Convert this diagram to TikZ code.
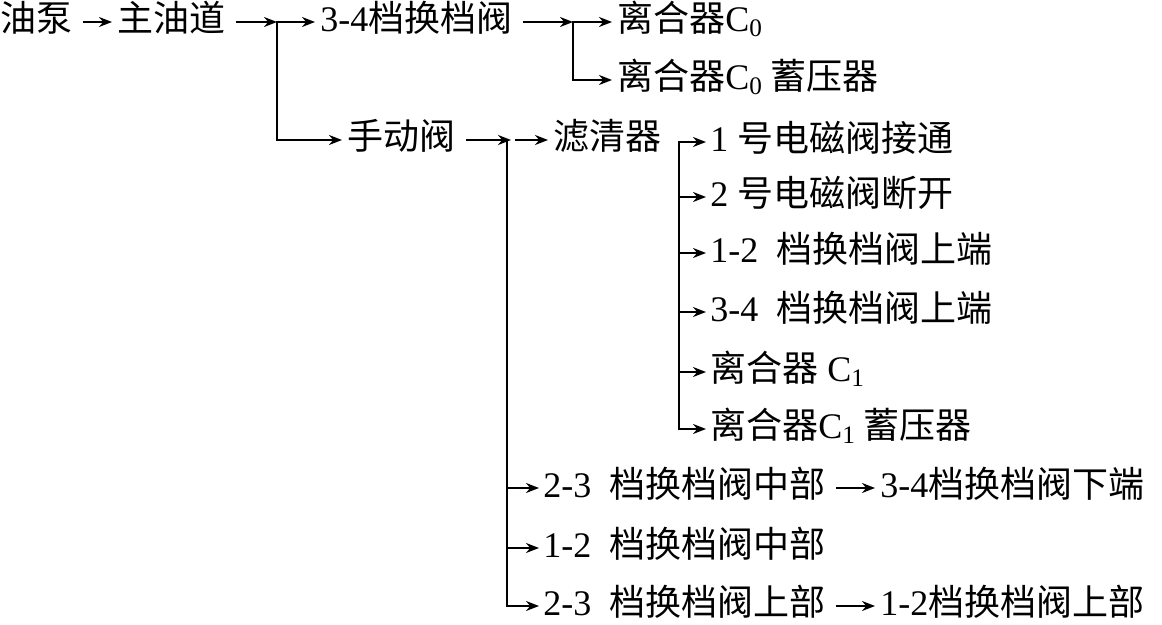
\documentclass[tikz,border=0pt]{standalone}
\usepackage{fontspec}
\setmainfont{Liberation Serif}
\newfontfamily\cjk{Noto Sans CJK SC}
\newcommand{\zh}[1]{{\cjk #1}}
\usetikzlibrary{arrows.meta}
\tikzset{
  item/.style={anchor=west,inner sep=0pt,text height=1.08em,text depth=0.12em,
    font=\fontsize{18pt}{20pt}\selectfont},
  flow/.style={line width=1pt,-{Stealth[length=6.5pt,width=5pt]}},
  twoway/.style={line width=1pt,{Stealth[length=6.5pt,width=5pt]}-{Stealth[length=6.5pt,width=5pt]}},
  gap/.style={shorten <=5pt,shorten >=2.5pt}
}
\begin{document}
\begin{tikzpicture}[x=0.5pt,y=-0.5pt]
  \useasboundingbox (0,0) rectangle (1162,625);
  \draw
    (0,22) node[item] (pump){\zh{油泵}}
    (117,22) node[item] (main){\zh{主油道}}
    (320,22) node[item] (sv34){3-4\zh{档换档阀}}
    (617,22) node[item] (c0){\zh{离合器}C\textsubscript{0}}
    (617,80) node[item] (c0acc){\zh{离合器}C\textsubscript{0}\hspace{0.2em}\zh{蓄压器}}
    (347,140) node[item] (manual){\zh{手动阀}}
    (553,140) node[item] (filter){\zh{滤清器}}
    (710,142) node[item] (sol1){1 \zh{号电磁阀接通}}
    (710,197) node[item] (sol2){2 \zh{号电磁阀断开}}
    (710,253) node[item] (up12){1-2\enspace\zh{档换档阀上端}}
    (710,312) node[item] (up34){3-4\enspace\zh{档换档阀上端}}
    (710,372) node[item] (c1){\zh{离合器}\ C\textsubscript{1}}
    (710,429) node[item] (c1acc){\zh{离合器}C\textsubscript{1}\hspace{0.2em}\zh{蓄压器}}
    (543,488) node[item] (mid23){2-3\enspace\zh{档换档阀中部}}
    (543,548) node[item] (mid12){1-2\enspace\zh{档换档阀中部}}
    (543,606) node[item] (top23){2-3\enspace\zh{档换档阀上部}}
    (880,488) node[item] (low34){3-4\zh{档换档阀下端}}
    (880,606) node[item] (top12){1-2\zh{档换档阀上部}};
  % branch points
  \coordinate (jmain) at (277,22);
  \coordinate (jsv) at (573,22);
  \coordinate (jman) at (507,140);
  \coordinate (jfil) at (679,142);
  \begin{scope}[flow]
    \draw[gap] (pump.east) to (main.west);
    \draw[shorten <=5pt] (main.east) to (jmain);
    \draw[twoway,shorten <=2.5pt,shorten >=2.5pt] (sv34.west) -- (jmain) -- (jmain |- manual.west) -- (manual.west);
    \draw[shorten <=5pt] (sv34.east) to (jsv);
    \draw[twoway,shorten <=2.5pt,shorten >=2.5pt] (c0.west) -- (jsv) -- (jsv |- c0acc.west) -- (c0acc.west);
    \draw[shorten <=5pt] (manual.east) to ([xshift=2pt]jman);
    \draw[shorten <=4pt,shorten >=2.5pt] (jman) to (filter.west);
    \draw[shorten >=2pt] (jman) |- (top23.west);
    \draw[shorten >=2pt] (jman |- mid23.west) to (mid23.west);
    \draw[shorten >=2pt] (jman |- mid12.west) to (mid12.west);
    \draw[twoway,shorten <=2pt,shorten >=2pt] (sol1.west) -- (jfil) -- (jfil |- c1acc.west) -- (c1acc.west);
    \draw[shorten >=2pt] (jfil |- sol2.west) to (sol2.west);
    \draw[shorten >=2pt] (jfil |- up12.west) to (up12.west);
    \draw[shorten >=2pt] (jfil |- up34.west) to (up34.west);
    \draw[shorten >=2pt] (jfil |- c1.west) to (c1.west);
    \draw[gap] (mid23.east) to (low34.west);
    \draw[gap] (top23.east) to (top12.west);
  \end{scope}
\end{tikzpicture}
\end{document}
